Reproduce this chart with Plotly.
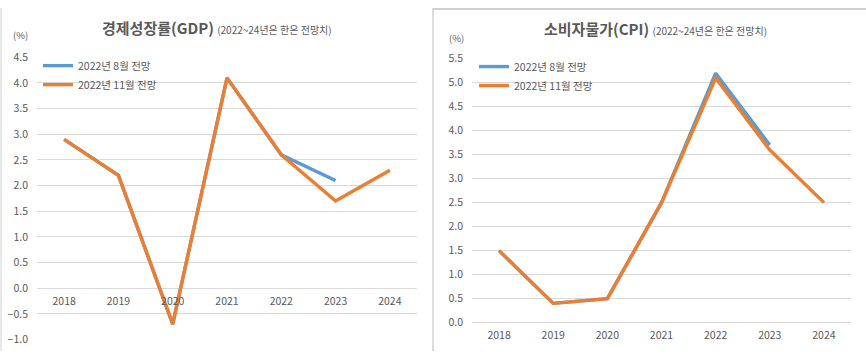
import plotly.graph_objects as go

years = ["2018", "2019", "2020", "2021", "2022", "2023", "2024"]

gdp_aug = [2.9, 2.2, -0.7, 4.1, 2.6, 2.1, None]
gdp_nov = [2.9, 2.2, -0.7, 4.1, 2.6, 1.7, 2.3]

cpi_aug = [1.5, 0.4, 0.5, 2.5, 5.2, 3.7, None]
cpi_nov = [1.5, 0.4, 0.5, 2.5, 5.1, 3.6, 2.5]

name_aug = "2022년 8월 전망"
name_nov = "2022년 11월 전망"

BLUE = "#5B9BD5"
ORANGE = "#ED7D31"
GREY = "#595959"
GRID = "#D9D9D9"
FONT = "Noto Sans CJK KR"

W, H = 866, 358

def px(x):
    return x / W

def py(y):
    return 1 - y / H

fig = go.Figure()

fig.add_trace(go.Scatter(x=years, y=gdp_aug, name=name_aug, mode="lines",
                         line=dict(color=BLUE, width=3.4), xaxis="x", yaxis="y",
                         legend="legend"))
fig.add_trace(go.Scatter(x=years, y=gdp_nov, name=name_nov, mode="lines",
                         line=dict(color=ORANGE, width=3.4), xaxis="x", yaxis="y",
                         legend="legend"))
fig.add_trace(go.Scatter(x=years, y=cpi_aug, name=name_aug, mode="lines",
                         line=dict(color=BLUE, width=3.4), xaxis="x2", yaxis="y2",
                         legend="legend2"))
fig.add_trace(go.Scatter(x=years, y=cpi_nov, name=name_nov, mode="lines",
                         line=dict(color=ORANGE, width=3.4), xaxis="x2", yaxis="y2",
                         legend="legend2"))

tickfont = dict(family=FONT, size=10.5, color=GREY)

yl = dict(domain=[py(346), py(51.5)], range=[-1.0, 4.5], dtick=0.5, tick0=0,
          tickformat=".1f", showgrid=True, gridcolor=GRID, gridwidth=1,
          zeroline=True, zerolinecolor=GRID, zerolinewidth=1,
          showline=False, ticks="", tickfont=tickfont, ticklabelstandoff=8,
          anchor="x", fixedrange=True)
yr = dict(domain=[py(328.3), py(53)], range=[0, 5.5], dtick=0.5, tick0=0,
          tickformat=".1f", showgrid=True, gridcolor=GRID, gridwidth=1,
          zeroline=True, zerolinecolor=GRID, zerolinewidth=1,
          showline=False, ticks="", tickfont=tickfont, ticklabelstandoff=8,
          anchor="x2", fixedrange=True)

xl = dict(domain=[px(37), px(417)], type="category", range=[-0.5, 6.5],
          showgrid=False, zeroline=False, showline=False, ticks="",
          tickfont=tickfont, anchor="free", position=py(292.3),
          ticklabelstandoff=5, fixedrange=True)
xr = dict(domain=[px(472), px(851)], type="category", range=[-0.5, 6.5],
          showgrid=False, zeroline=False, showline=False, ticks="",
          tickfont=tickfont, anchor="free", position=py(328.3),
          ticklabelstandoff=5, fixedrange=True)

legfont = dict(family=FONT, size=10.5, color=GREY)

fig.update_layout(
    width=W, height=H,
    margin=dict(l=0, r=0, t=0, b=0),
    paper_bgcolor="white", plot_bgcolor="white",
    font=dict(family=FONT, color=GREY),
    xaxis=xl, yaxis=yl, xaxis2=xr, yaxis2=yr,
    showlegend=True,
    legend=dict(x=px(38), y=py(45), xanchor="left", yanchor="top",
                bgcolor="rgba(0,0,0,0)", font=legfont, tracegroupgap=0,
                itemwidth=30),
    legend2=dict(x=px(474), y=py(46), xanchor="left", yanchor="top",
                 bgcolor="rgba(0,0,0,0)", font=legfont, tracegroupgap=0,
                 itemwidth=30),
)

annotations = [
    dict(x=px(100), y=py(20), xref="paper", yref="paper", showarrow=False,
         xanchor="left", yanchor="middle",
         text="<b>경제성장률(GDP)</b> <span style='font-size:10px'>(2022~24년은 한은 전망치)</span>",
         font=dict(family=FONT, size=15, color=GREY)),
    dict(x=px(542), y=py(21), xref="paper", yref="paper", showarrow=False,
         xanchor="left", yanchor="middle",
         text="<b>소비자물가(CPI)</b> <span style='font-size:10px'>(2022~24년은 한은 전망치)</span>",
         font=dict(family=FONT, size=15, color=GREY)),
    dict(x=px(11), y=py(28), xref="paper", yref="paper", showarrow=False,
         xanchor="left", yanchor="middle", text="(%)",
         font=dict(family=FONT, size=9.5, color=GREY)),
    dict(x=px(447), y=py(31), xref="paper", yref="paper", showarrow=False,
         xanchor="left", yanchor="middle", text="(%)",
         font=dict(family=FONT, size=9.5, color=GREY)),
]
fig.update_layout(annotations=annotations)

shapes = [
    dict(type="line", xref="paper", yref="paper", x0=px(1), x1=px(1), y0=0, y1=1,
         line=dict(color="#D0D0D0", width=1)),
    dict(type="line", xref="paper", yref="paper", x0=px(433), x1=px(433), y0=0, y1=1,
         line=dict(color="#D0D0D0", width=1.5)),
    dict(type="line", xref="paper", yref="paper", x0=px(433), x1=1, y0=py(1), y1=py(1),
         line=dict(color="#D0D0D0", width=2)),
]
fig.update_layout(shapes=shapes)

post = (
    "document.documentElement.style.margin='0';"
    "document.body.style.margin='0';"
    "document.body.style.overflow='hidden';"
    "var g=document.querySelector('.plotly-graph-div');"
    "if(g){g.style.position='fixed';g.style.top='0px';g.style.left='0px';}"
)

fig.write_html("out.html", config={"displayModeBar": False}, post_script=post)
